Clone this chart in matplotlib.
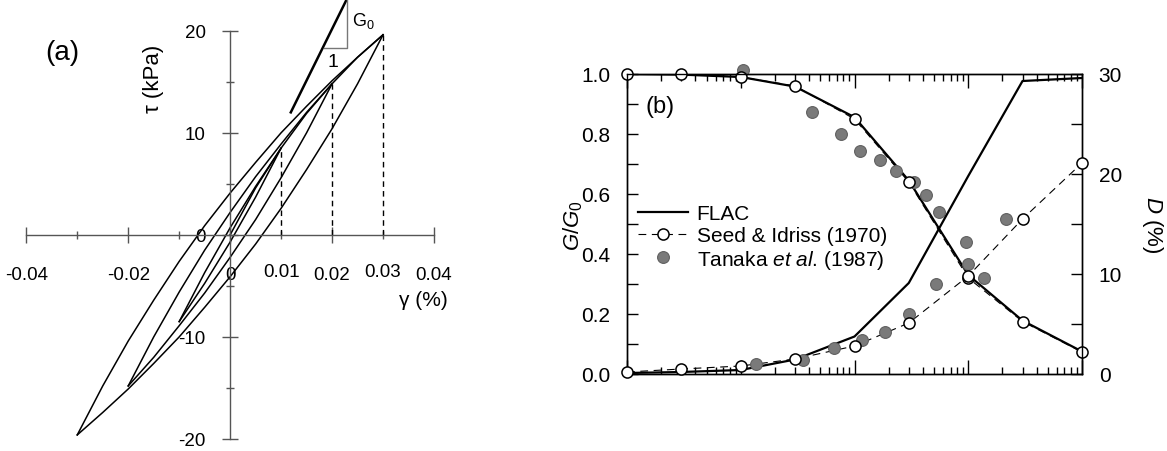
import matplotlib
matplotlib.use('Agg')
import matplotlib.pyplot as plt
from matplotlib.ticker import FixedLocator, FixedFormatter, LogLocator, NullFormatter
from matplotlib.lines import Line2D

plt.rcParams['font.family'] = ['Liberation Sans', 'DejaVu Sans']
plt.rcParams['mathtext.fontset'] = 'custom'
plt.rcParams['mathtext.rm'] = 'Liberation Sans'
plt.rcParams['mathtext.it'] = 'Liberation Sans:italic'

# ---- (a) stress-strain loops, gamma in %, tau in kPa
gam_bb = [0, 0.005, 0.01, 0.015, 0.02, 0.025, 0.03]
tau_bb = [0, 4.6, 8.5, 11.9, 14.8, 17.4, 19.6]

gam_l1_dn = [0.01, 0.005, 0, -0.005, -0.01]
tau_l1_dn = [8.5, 3.7, -0.7, -4.75, -8.5]
gam_l1_up = [-0.01, -0.005, 0, 0.005, 0.01]
tau_l1_up = [-8.5, -3.7, 0.7, 4.75, 8.5]

gam_l2_dn = [0.02, 0.015, 0.01, 0.005, 0, -0.005, -0.01, -0.015, -0.02]
tau_l2_dn = [14.8, 10.0, 5.6, 1.5, -2.2, -5.7, -8.9, -12.0, -14.8]
gam_l2_up = [-0.02, -0.015, -0.01, -0.005, 0, 0.005, 0.01, 0.015, 0.02]
tau_l2_up = [-14.8, -10.0, -5.6, -1.5, 2.2, 5.7, 8.9, 12.0, 14.8]

gam_l3_dn = [0.03, 0.025, 0.02, 0.015, 0.01, 0.005, 0, -0.005, -0.01, -0.015, -0.02, -0.025, -0.03]
tau_l3_dn = [19.6, 14.8, 10.4, 6.4, 2.6, -0.9, -4.1, -7.1, -10.0, -12.6, -15.1, -17.4, -19.6]
gam_l3_up = [-0.03, -0.025, -0.02, -0.015, -0.01, -0.005, 0, 0.005, 0.01, 0.015, 0.02, 0.025, 0.03]
tau_l3_up = [-19.6, -14.8, -10.4, -6.4, -2.6, 0.9, 4.1, 7.1, 10.0, 12.6, 15.1, 17.4, 19.6]

tip_gam = [0.01, 0.02, 0.03]
tip_tau = [8.5, 14.8, 19.6]

# ---- (b) modulus reduction and damping, strain in %
si_x = [1e-4, 3e-4, 1e-3, 3e-3, 1e-2, 3e-2, 0.1, 0.3, 1.0]
si_g = [1.0, 1.0, 0.99, 0.96, 0.85, 0.64, 0.32, 0.175, 0.073]
si_d = [0.2, 0.5, 0.8, 1.5, 2.8, 5.1, 9.8, 15.5, 21.1]

flac_x = [1e-4, 3e-4, 1e-3, 3e-3, 1e-2, 3e-2, 0.1, 0.3, 1.0]
flac_g = [1.0, 0.998, 0.99, 0.958, 0.856, 0.645, 0.33, 0.178, 0.075]
flac_d = [0.1, 0.2, 0.4, 1.45, 3.75, 9.1, 19.8, 29.3, 29.6]

tk_gx = [1.04e-3, 4.2e-3, 7.6e-3, 1.12e-2, 1.67e-2, 2.3e-2, 3.36e-2, 4.26e-2, 5.5e-2, 0.1, 0.138]
tk_g = [1.013, 0.872, 0.80, 0.742, 0.714, 0.678, 0.641, 0.598, 0.539, 0.367, 0.319]
tk_dx = [1.36e-3, 3.55e-3, 6.65e-3, 1.16e-2, 1.85e-2, 2.99e-2, 5.2e-2, 9.55e-2, 0.215]
tk_d = [1.0, 1.4, 2.6, 3.45, 4.2, 6.0, 9.0, 13.2, 15.5]

W, H = 1167., 452.
fig = plt.figure(figsize=(W/100, H/100), dpi=100)

# ================= (a)
ax1 = fig.add_axes([26.3/W, 1-440/H, (434-26.3)/W, (440-31.7)/H])
ax1.set_xlim(-0.04, 0.04)
ax1.set_ylim(-20, 20)
for s in ['top', 'right']:
    ax1.spines[s].set_visible(False)
for s in ['left', 'bottom']:
    ax1.spines[s].set_position(('data', 0))
    ax1.spines[s].set_color('#555555')
    ax1.spines[s].set_linewidth(1.0)
ax1.patch.set_visible(False)

lc = dict(color='black', lw=1.1, clip_on=False)
ax1.plot(gam_bb, tau_bb, **lc)
ax1.plot(gam_l1_dn, tau_l1_dn, **lc)
ax1.plot(gam_l1_up, tau_l1_up, **lc)
ax1.plot(gam_l2_dn, tau_l2_dn, **lc)
ax1.plot(gam_l2_up, tau_l2_up, **lc)
ax1.plot(gam_l3_dn, tau_l3_dn, **lc)
ax1.plot(gam_l3_up, tau_l3_up, **lc)
for g, t in zip(tip_gam, tip_tau):
    ax1.plot([g, g], [0, t], color='black', lw=1.0, ls=(0, (4, 3)))

# G0 slope triangle
ax1.plot([0.0119, 0.0229], [12.0, 23.1], color='black', lw=1.8, clip_on=False)
ax1.plot([0.0184, 0.0229, 0.0229], [18.35, 18.35, 23.1], color='#777777', lw=1.0, clip_on=False)
ax1.text(0.0239, 21.0, 'G$_0$', fontsize=13, ha='left', va='center')
ax1.text(0.0202, 17.0, '1', fontsize=14, ha='center', va='center')

ax1.xaxis.set_major_locator(FixedLocator([-0.04, -0.02, 0, 0.02, 0.04]))
ax1.xaxis.set_major_formatter(FixedFormatter(['-0.04', '-0.02', '0', '0.02', '0.04']))
ax1.xaxis.set_minor_locator(FixedLocator([-0.03, -0.01, 0.01, 0.03]))
ax1.xaxis.set_minor_formatter(FixedFormatter(['', '', '0.01', '0.03']))
ax1.yaxis.set_major_locator(FixedLocator([-20, -10, 0, 10, 20]))
ax1.yaxis.set_major_formatter(FixedFormatter(['-20', '-10', '0', '10', '20']))
ax1.yaxis.set_minor_locator(FixedLocator([-15, -5, 5, 15]))
ax1.tick_params(which='both', direction='inout', color='#555555', width=1.0, labelsize=13.5)
ax1.tick_params(which='major', length=11)
ax1.tick_params(which='minor', length=6)
ax1.tick_params(axis='x', which='both', pad=17)
ax1.tick_params(axis='y', which='both', pad=12)

fig.text(62/W, 1-53/H, '(a)', fontsize=20, ha='center', va='center')
fig.text(153/W, 1-79/H, 'τ (kPa)', fontsize=16, rotation=90, ha='center', va='center')
fig.text(399/W, 1-300/H, 'γ (%)', fontsize=15, ha='left', va='center')

# ================= (b)
ax = fig.add_axes([627/W, 1-375/H, (1082-627)/W, 300/H])
ax2 = ax.twinx()
ax.set_xscale('log')
ax.set_xlim(1e-4, 1)
ax.set_ylim(0, 1.0)
ax2.set_ylim(0, 30)

ax.plot(flac_x, flac_g, color='black', lw=1.6, zorder=3)
ax.plot(si_x, si_g, color='black', lw=0.8, ls=(0, (7, 5)), zorder=3)
ax.plot(tk_gx, tk_g, 'o', ms=8.5, mfc='#7a7a7a', mec='#606060', mew=0.8, zorder=4, clip_on=False)
ax.plot(si_x, si_g, 'o', ms=8, mfc='white', mec='black', mew=1.1, zorder=5, clip_on=False)

ax2.plot(flac_x, flac_d, color='black', lw=1.6, zorder=3)
ax2.plot(si_x, si_d, color='black', lw=0.8, ls=(0, (7, 5)), zorder=3)
ax2.plot(tk_dx, tk_d, 'o', ms=8.5, mfc='#7a7a7a', mec='#606060', mew=0.8, zorder=4, clip_on=False)
ax2.plot(si_x, si_d, 'o', ms=8, mfc='white', mec='black', mew=1.1, zorder=5, clip_on=False)

ax.xaxis.set_major_locator(LogLocator(base=10, numticks=10))
ax.xaxis.set_minor_locator(LogLocator(base=10, subs=[2, 3, 4, 5, 6, 7, 8, 9], numticks=10))
ax.xaxis.set_major_formatter(NullFormatter())
ax.xaxis.set_minor_formatter(NullFormatter())
ax.tick_params(axis='x', which='both', direction='in', top=True, bottom=True, width=1.0)
ax.tick_params(axis='x', which='major', length=10)
ax.tick_params(axis='x', which='minor', length=5)

ax.set_yticks([0, 0.2, 0.4, 0.6, 0.8, 1.0])
ax.set_yticklabels(['0.0', '0.2', '0.4', '0.6', '0.8', '1.0'])
ax.set_yticks([0.1, 0.3, 0.5, 0.7, 0.9], minor=True)
ax.tick_params(axis='y', which='both', direction='in', length=8, width=1.0, labelsize=15, pad=12)

ax2.set_yticks([0, 10, 20, 30])
ax2.set_yticks([5, 15, 25], minor=True)
ax2.tick_params(axis='y', which='both', direction='in', length=8, width=1.0, labelsize=15, pad=12)
for a in (ax, ax2):
    for s in a.spines.values():
        s.set_linewidth(1.0)

ax.text(0.04, 0.893, '(b)', transform=ax.transAxes, fontsize=17, ha='left', va='center')

fig.text(573/W, 1-226/H, r'$G/G_0$', fontsize=16, rotation=90, ha='center', va='center')
fig.text(1152/W, 1-225/H, r'$D$ (%)', fontsize=16, rotation=270, ha='center', va='center')

handles = [
    Line2D([], [], color='black', lw=1.6),
    Line2D([], [], color='black', lw=0.8, ls=(0, (7, 5)), marker='o', ms=8, mfc='white', mec='black', mew=1.1),
    Line2D([], [], ls='none', marker='o', ms=8.5, mfc='#7a7a7a', mec='#606060', mew=0.8),
]
labels = ['FLAC', 'Seed & Idriss (1970)', r'Tanaka $\mathit{et\ al}$. (1987)']
leg = ax2.legend(handles, labels, loc='upper left', bbox_to_anchor=(0.025, 0.565), frameon=False,
                 fontsize=15, handlelength=2.4, handletextpad=0.4, labelspacing=0.12,
                 borderpad=0, borderaxespad=0, numpoints=1)

fig.savefig('out.png', dpi=100)
